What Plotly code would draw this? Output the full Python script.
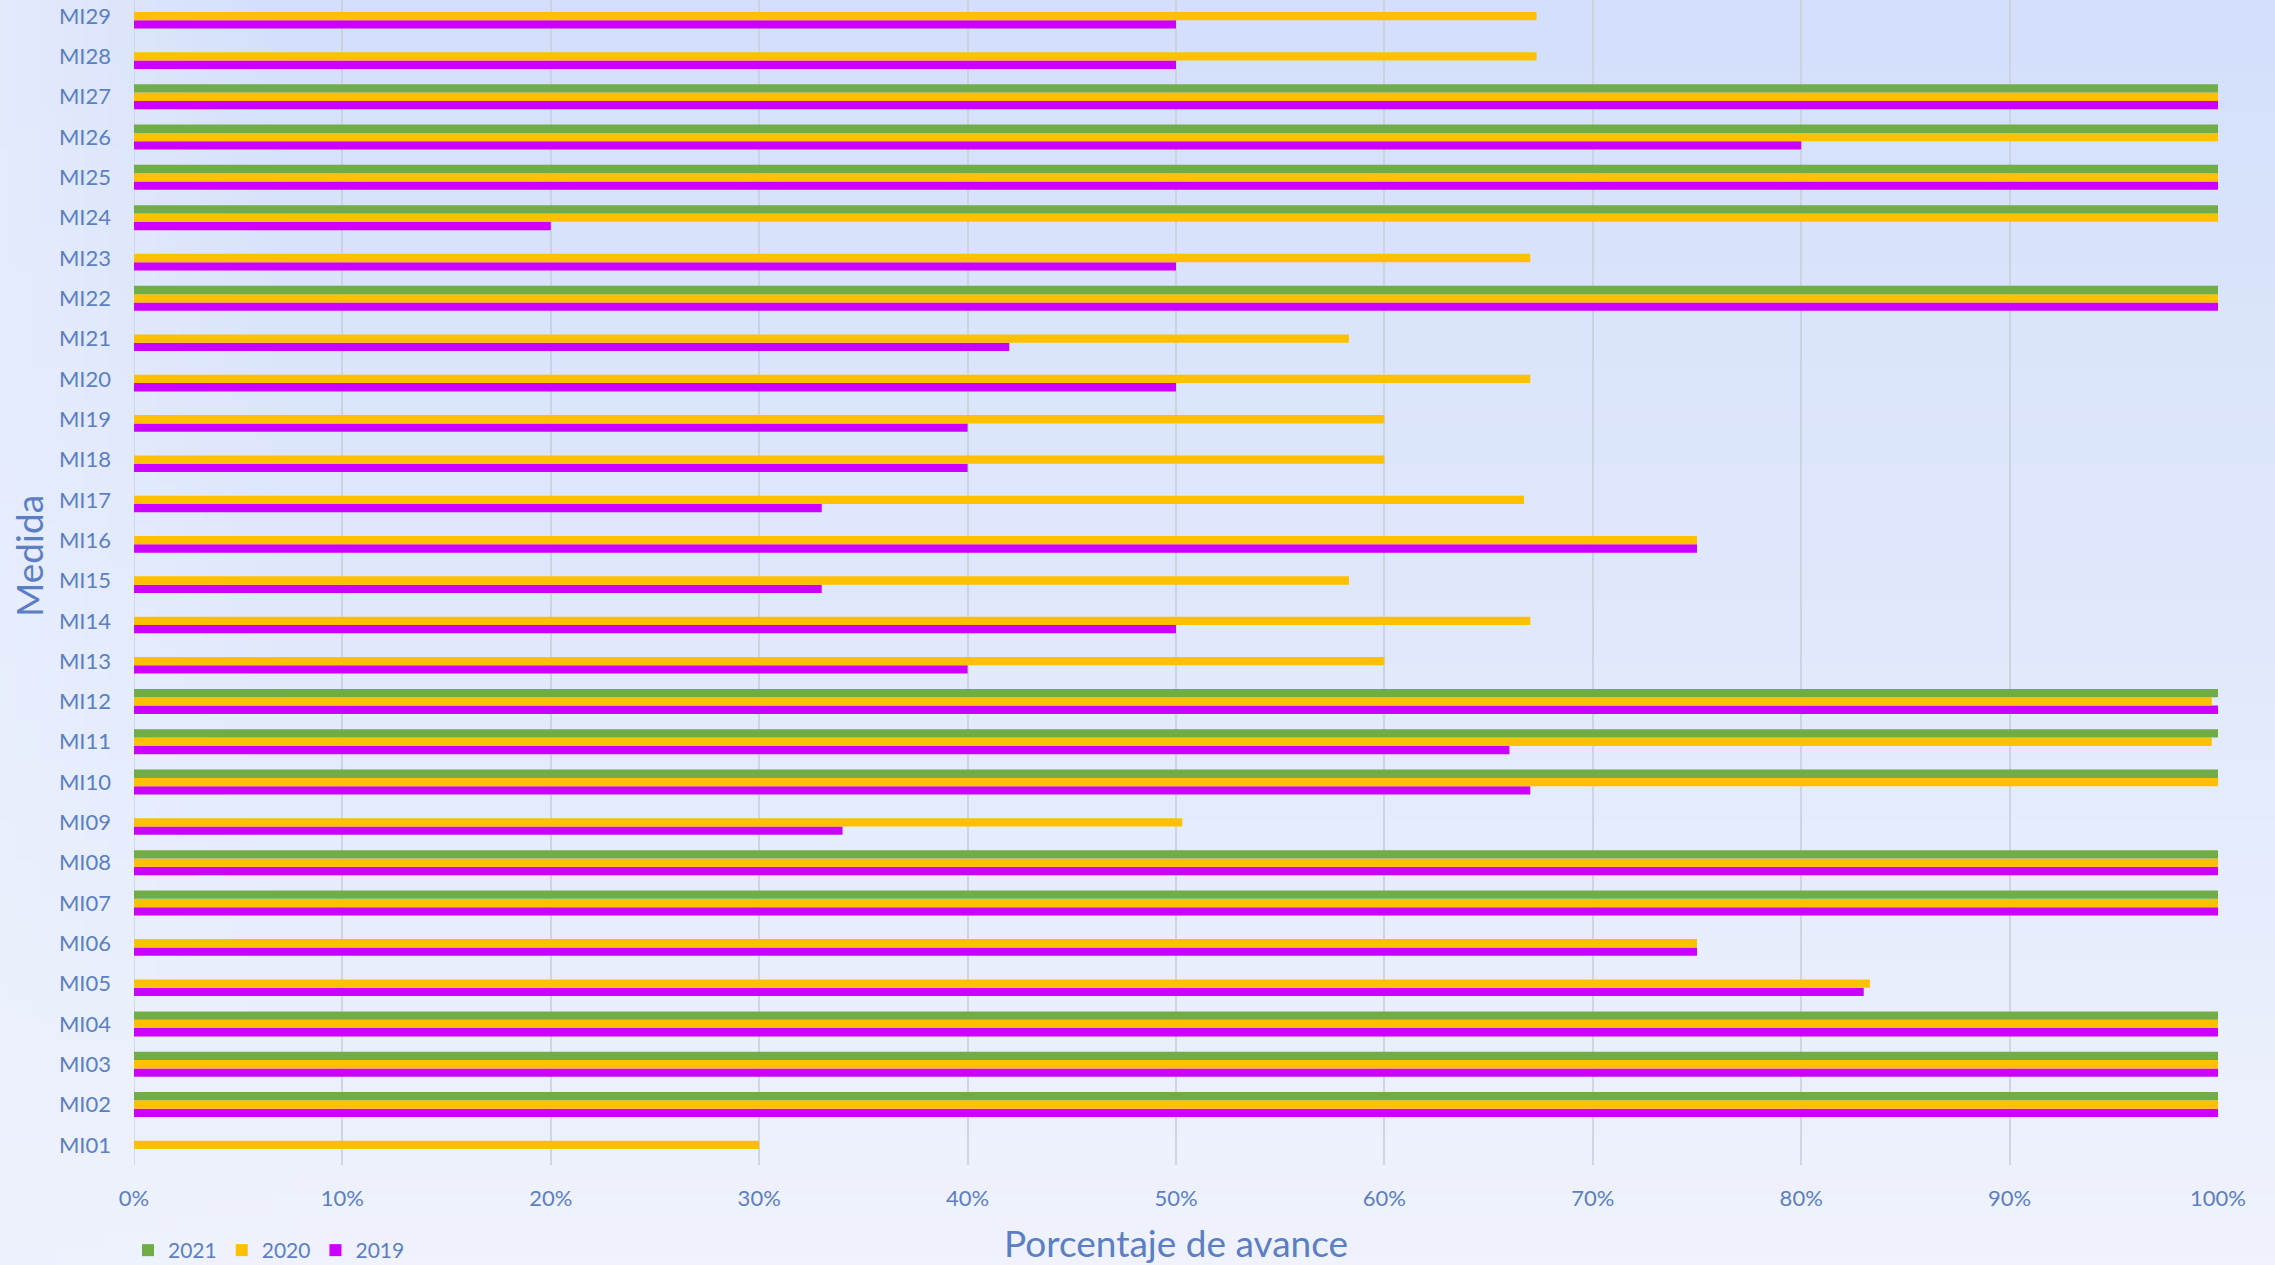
import base64
import struct
import zlib

import numpy as np
import plotly.graph_objects as go

# ---------------- data ----------------
categories = ["MI%02d" % i for i in range(1, 30)]

v2019 = [None, 100, 100, 100, 83, 75, 100, 100, 34, 67,
         66, 100, 40, 50, 33, 75, 33, 40, 40, 50,
         42, 100, 50, 20, 100, 80, 100, 50, 50]
v2020 = [30, 100, 100, 100, 83.3, 75, 100, 100, 50.3, 100,
         99.7, 99.7, 60, 67, 58.3, 75, 66.7, 60, 60, 67,
         58.3, 100, 67, 100, 100, 100, 100, 67.3, 67.3]
v2021 = [None, 100, 100, 100, None, None, 100, 100, None, 100,
         100, 100, None, None, None, None, None, None, None, None,
         None, 100, None, 100, 100, 100, 100, None, None]

series_names = ["2019", "2020", "2021"]
series_colors = ["#CC00FF", "#FFC000", "#70AD47"]
x_ticks = list(range(0, 101, 10))
x_tick_labels = ["%d%%" % t for t in x_ticks]

# ---------------- background gradient image ----------------
def png_uri(arr):
    h, w, _ = arr.shape
    raw = b"".join(b"\x00" + arr[r].astype(np.uint8).tobytes() for r in range(h))
    def chunk(tag, data):
        c = struct.pack(">I", len(data)) + tag + data
        return c + struct.pack(">I", zlib.crc32(tag + data) & 0xFFFFFFFF)
    png = b"\x89PNG\r\n\x1a\n"
    png += chunk(b"IHDR", struct.pack(">IIBBBBB", w, h, 8, 2, 0, 0, 0))
    png += chunk(b"IDAT", zlib.compress(raw, 9))
    png += chunk(b"IEND", b"")
    return "data:image/png;base64," + base64.b64encode(png).decode()

W, H = 96, 64
yy = np.linspace(0, 1, H)[:, None]
xx = np.linspace(0, 1, W)[None, :]
top = np.array([212, 224, 251], float)
mid = np.array([226, 234, 252], float)
bot = np.array([240, 243, 253], float)
t1 = np.clip(yy / 0.55, 0, 1)[..., None]
t2 = np.clip((yy - 0.55) / 0.45, 0, 1)[..., None]
col = np.where(yy[..., None] < 0.55, top * (1 - t1) + mid * t1, mid * (1 - t2) + bot * t2)
col = np.broadcast_to(col, (H, W, 3)).copy()
left = np.clip(1 - xx / 0.12, 0, 1)[..., None] * 0.6
col = col * (1 - left) + np.array([236, 241, 253], float) * left
bg_uri = png_uri(col)

# ---------------- figure ----------------
FONT = "Lato, 'Open Sans', sans-serif"
TXT = "#5B7FC2"
PLOT_L, PLOT_R, PLOT_T, PLOT_B = 134, 2218, 0, 1165

def px_to_paper_x(px):
    return (px - PLOT_L) / (PLOT_R - PLOT_L)

def px_to_paper_y(py):
    return (PLOT_B - py) / (PLOT_B - PLOT_T)

fig = go.Figure()
for name, vals, colr in zip(series_names, [v2019, v2020, v2021], series_colors):
    fig.add_trace(go.Bar(
        y=categories, x=vals, name=name, orientation="h",
        marker=dict(color=colr, line=dict(width=0)),
    ))

fig.update_layout(
    width=2275, height=1265,
    margin=dict(l=PLOT_L, r=2275 - PLOT_R, t=PLOT_T, b=1265 - PLOT_B, autoexpand=False),
    barmode="group", bargap=0.38, bargroupgap=0,
    paper_bgcolor="#EEF2FC", plot_bgcolor="rgba(0,0,0,0)",
    font=dict(family=FONT, color=TXT, size=22),
    images=[dict(source=bg_uri, xref="paper", yref="paper",
                 x=px_to_paper_x(0), y=px_to_paper_y(0),
                 sizex=2275 / (PLOT_R - PLOT_L), sizey=1265 / (PLOT_B - PLOT_T),
                 xanchor="left", yanchor="top",
                 sizing="stretch", layer="below")],
    showlegend=True,
    legend=dict(orientation="h", traceorder="reversed",
                x=px_to_paper_x(128), y=px_to_paper_y(1271), xanchor="left", yanchor="bottom",
                font=dict(size=21, color=TXT, family=FONT),
                itemwidth=30, bgcolor="rgba(0,0,0,0)"),
    xaxis=dict(range=[0, 100], tickvals=x_ticks, ticktext=x_tick_labels,
               showgrid=True, gridcolor="rgba(200,206,218,0.8)", gridwidth=1.5,
               zeroline=False, showline=False, automargin=False,
               ticks="outside", ticklen=14, tickcolor="rgba(0,0,0,0)",
               tickfont=dict(size=22, color=TXT, family=FONT)),
    yaxis=dict(type="category", categoryorder="array", categoryarray=categories,
               range=[-0.5, 28.4], showgrid=False, zeroline=False, automargin=False,
               showline=False, ticks="", ticklabelstandoff=22,
               tickfont=dict(size=22, color=TXT, family=FONT)),
    shapes=[dict(type="line", xref="x", yref="paper", x0=0, x1=0, y0=0, y1=1,
                 line=dict(color="rgba(200,206,218,0.8)", width=1.5), layer="below")],
    annotations=[
        dict(text="Porcentaje de avance", xref="paper", yref="paper",
             x=0.5, y=px_to_paper_y(1242), xanchor="center", yanchor="middle",
             showarrow=False, font=dict(size=37, color=TXT, family=FONT)),
        dict(text="Medida", xref="paper", yref="paper",
             x=px_to_paper_x(28), y=px_to_paper_y(556), xanchor="center", yanchor="middle",
             textangle=-90, showarrow=False, font=dict(size=37, color=TXT, family=FONT)),
    ],
)

fig.write_html("out.html", config={"displayModeBar": False},
               post_script="document.body.style.margin='0';document.body.style.overflow='hidden';")
